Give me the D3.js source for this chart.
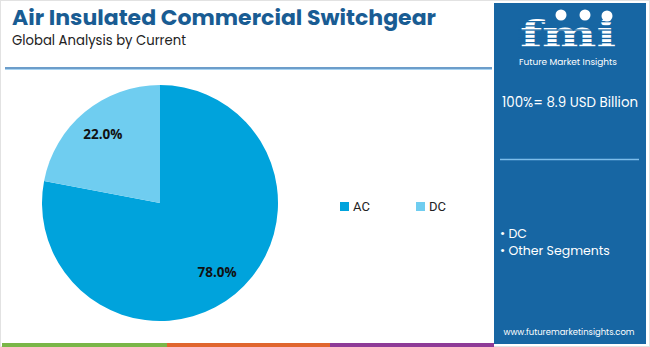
<!DOCTYPE html>
<html><head><meta charset="utf-8">
<script src="https://cdn.jsdelivr.net/npm/d3@7"></script>
<style>body{margin:0;background:#fff}svg{display:block}</style>
</head><body>
<svg id="c" width="650" height="347"></svg>
<script>
const categories = ["AC", "DC"];
const values = [78.0, 22.0];
const colors = ["#00a3dc", "#6fcdf0"];
const panelItems = ["DC", "Other Segments"];
const totalLabel = "100%= 8.9 USD Billion";

const svg = d3.select("#c");
const W = 650, H = 347;
svg.append("rect").attr("x",0).attr("y",0).attr("width",W).attr("height",H).attr("fill","#fff");
svg.append("rect").attr("x",0.5).attr("y",0.5).attr("width",W-1).attr("height",H-1).attr("fill","none").attr("stroke","#e2e2e2");

// Title
svg.append("text").attr("x",12).attr("y",25).text("Air Insulated Commercial Switchgear")
  .attr("font-family","Poppins, 'Open Sans', Lato, sans-serif").attr("font-weight",700)
  .attr("font-size",21).attr("fill","#195c93").attr("textLength",424).attr("lengthAdjust","spacingAndGlyphs");
svg.append("text").attr("x",12).attr("y",45).text("Global Analysis by Current")
  .attr("font-family","Poppins, 'Open Sans', Lato, sans-serif").attr("font-size",13.5).attr("fill","#222")
  .attr("textLength",174).attr("lengthAdjust","spacingAndGlyphs");
svg.append("line").attr("x1",5).attr("x2",492).attr("y1",68).attr("y2",68).attr("stroke","#3b7db8").attr("stroke-width",1.5);
svg.append("line").attr("x1",5).attr("x2",492).attr("y1",69.5).attr("y2",69.5).attr("stroke","#a9d4f2").attr("stroke-width",1);

// Pie
const cx = 160, cy = 203, r = 118;
const pie = d3.pie().sort(null).value(d => d)(values);
const arc = d3.arc().innerRadius(0).outerRadius(r);
const g = svg.append("g").attr("transform",`translate(${cx},${cy})`);
g.selectAll("path").data(pie).join("path").attr("d",arc).attr("fill",(d,i)=>colors[i]);
const labelArc = d3.arc().innerRadius(r*0.76).outerRadius(r*0.76);
g.selectAll("text").data(pie).join("text")
  .attr("transform", d => { const c = labelArc.centroid(d); return `translate(${c[0]},${c[1]})`; })
  .attr("text-anchor","middle").attr("dy","0.35em")
  .attr("font-family","'Open Sans', Roboto, sans-serif").attr("font-weight",700).attr("font-size",13.5).attr("fill","#111")
  .text(d => d.value.toFixed(1) + "%");

// Legend
const leg = svg.append("g").selectAll("g").data(categories).join("g")
  .attr("transform",(d,i)=>`translate(${340 + i*76},202)`);
leg.append("rect").attr("width",9).attr("height",9).attr("fill",(d,i)=>colors[i]);
leg.append("text").attr("x",13).attr("y",9).text(d=>d)
  .attr("font-family","Roboto, 'Liberation Sans', sans-serif").attr("font-size",13).attr("fill","#222");

// Right panel
const px = 494, pw = 152;
svg.append("rect").attr("x",px).attr("y",3).attr("width",pw).attr("height",341).attr("fill","#1766a3");
// logo
const lg = svg.append("g");
lg.append("text").attr("x",568).attr("y",47).attr("text-anchor","middle").text("fmi")
  .attr("font-family","'DejaVu Serif', serif").attr("font-weight",700).attr("font-size",37).attr("fill","#fff")
  .attr("textLength",96).attr("lengthAdjust","spacingAndGlyphs");
for (let k=0;k<7;k++) lg.append("rect").attr("x",518).attr("y",21+k*4.2).attr("width",100).attr("height",1.3).attr("fill","#1766a3");
[[561,15],[585,15],[607,16]].forEach(p=>lg.append("circle").attr("cx",p[0]).attr("cy",p[1]).attr("r",5.5).attr("fill","#fff"));
lg.append("text").attr("x",568).attr("y",65).attr("text-anchor","middle").text("Future Market Insights")
  .attr("font-family","Poppins, 'Open Sans', sans-serif").attr("font-size",8.5).attr("fill","#fff")
  .attr("textLength",98).attr("lengthAdjust","spacingAndGlyphs");

svg.append("text").attr("x",570).attr("y",107).attr("text-anchor","middle").text(totalLabel)
  .attr("font-family","Poppins, 'Open Sans', sans-serif").attr("font-size",14.5).attr("fill","#fff")
  .attr("textLength",136).attr("lengthAdjust","spacingAndGlyphs");
svg.append("line").attr("x1",500).attr("x2",639).attr("y1",159.5).attr("y2",159.5).attr("stroke","#7dbdea").attr("stroke-width",1.5);
svg.append("g").selectAll("text").data(panelItems).join("text")
  .attr("x",500).attr("y",(d,i)=>238 + i*17).text(d=>"• " + d)
  .attr("font-family","Poppins, 'Open Sans', sans-serif").attr("font-size",12.5).attr("fill","#fff");
svg.append("text").attr("x",569).attr("y",335).attr("text-anchor","middle").text("www.futuremarketinsights.com")
  .attr("font-family","Poppins, 'Open Sans', sans-serif").attr("font-size",9.5).attr("fill","#fff")
  .attr("textLength",131).attr("lengthAdjust","spacingAndGlyphs");

// bottom bars
const bars = [["#7ab648",2,167],["#e0662e",167,330],["#8e3a97",330,494]];
bars.forEach(b=>svg.append("rect").attr("x",b[1]).attr("y",343).attr("width",b[2]-b[1]).attr("height",4).attr("fill",b[0]));
</script>
</body></html>
